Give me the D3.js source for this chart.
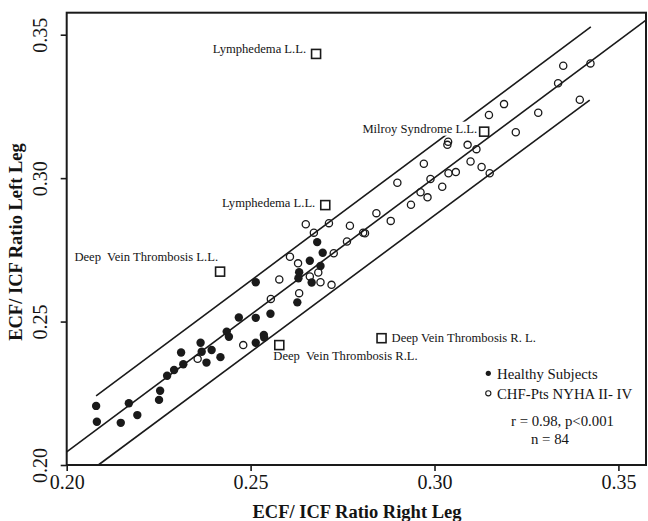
<!DOCTYPE html>
<html><head><meta charset="utf-8">
<script src="https://cdn.jsdelivr.net/npm/d3@7"></script>
<style>
html,body{margin:0;padding:0;background:#fff;}
svg text{font-family:"Liberation Serif","Times New Roman",serif;fill:#141414;white-space:pre;}
</style></head>
<body><svg id="c" width="648" height="521"></svg>
<script>
// ---- data ----
const xTicks = [0.20, 0.25, 0.30, 0.35];
const yTicks = [0.20, 0.25, 0.30, 0.35];
const xTickLabels = ["0.20", "0.25", "0.30", "0.35"];
const yTickLabels = ["0.20", "0.25", "0.30", "0.35"];
const xTitle = "ECF/ ICF Ratio Right Leg";
const yTitle = "ECF/ ICF Ratio Left Leg";

const healthyX = [0.2080,0.2082,0.2147,0.2169,0.2192,0.2251,0.2254,0.2273,0.2292,0.2311,0.2317,0.2364,0.2367,0.2380,0.2394,0.2418,0.2435,0.2441,0.2514,0.2536,0.2537,0.2468,0.2514,0.2554,0.2627,0.2514,0.2630,0.2632,0.2666,0.2661,0.2690,0.2696,0.2681];
const healthyY = [0.2206,0.2151,0.2147,0.2215,0.2174,0.2227,0.2259,0.2311,0.2331,0.2392,0.2351,0.2426,0.2395,0.2357,0.2401,0.2376,0.2465,0.2447,0.2426,0.2453,0.2444,0.2514,0.2513,0.2527,0.2567,0.2637,0.2651,0.2672,0.2636,0.2712,0.2694,0.2740,0.2777];

const chfX = [0.2356,0.2480,0.2555,0.2578,0.2607,0.2629,0.2632,0.2661,0.2684,0.2690,0.2720,0.2672,0.2726,0.2762,0.2806,0.2650,0.2713,0.2770,0.2811,0.2842,0.2881,0.2936,0.2962,0.2981,0.2899,0.2989,0.3021,0.2971,0.3038,0.3058,0.3037,0.3035,0.3090,0.3114,0.3098,0.3128,0.3150,0.3148,0.3189,0.3221,0.3282,0.3336,0.3350,0.3424,0.3395];
const chfY = [0.2370,0.2418,0.2579,0.2647,0.2726,0.2703,0.2599,0.2657,0.2671,0.2637,0.2628,0.2810,0.2738,0.2779,0.2810,0.2839,0.2843,0.2834,0.2808,0.2878,0.2851,0.2907,0.2951,0.2933,0.2984,0.2997,0.2970,0.3050,0.3017,0.3021,0.3127,0.3116,0.3116,0.3101,0.3058,0.3039,0.3017,0.3220,0.3258,0.3160,0.3228,0.3331,0.3392,0.3400,0.3273];

const caseNames = ["Lymphedema L.L.","Milroy Syndrome L.L.","Lymphedema L.L.","Deep  Vein Thrombosis L.L.","Deep  Vein Thrombosis R.L.","Deep Vein Thrombosis R. L."];
const caseX = [0.2678,0.3135,0.2703,0.2417,0.2578,0.2856];
const caseY = [0.3433,0.3162,0.2906,0.2674,0.2418,0.2442];

const fitLine = [[0.2000,0.2046],[0.3575,0.3551]];
const upperLine = [[0.2080,0.2241],[0.3425,0.3527]];
const lowerLine = [[0.2086,0.2000],[0.3422,0.3272]];

const legendLabels = ["Healthy Subjects","CHF-Pts NYHA II- IV"];
const statText = ["r = 0.98, p<0.001","n = 84"];

// ---- drawing ----
const svg = d3.select("#c");
const x = d3.scaleLinear().domain([0.2, 0.3575]).range([66.7, 646]);
const y = d3.scaleLinear().domain([0.2, 0.35767]).range([465, 12.7]);
const ink = "#1a1a1a";

// regression + bounds
const line = d3.line().x(d=>x(d[0])).y(d=>y(d[1]));
[fitLine, upperLine, lowerLine].forEach(l=>{
  svg.append("path").attr("d", line(l)).attr("fill","none").attr("stroke",ink).attr("stroke-width",1.6);
});

// healthy points
svg.append("g").selectAll("circle").data(healthyX.map((v,i)=>[v,healthyY[i]])).join("circle")
  .attr("cx",d=>x(d[0])).attr("cy",d=>y(d[1])).attr("r",4.2).attr("fill",ink);

// chf points
svg.append("g").selectAll("circle").data(chfX.map((v,i)=>[v,chfY[i]])).join("circle")
  .attr("cx",d=>x(d[0])).attr("cy",d=>y(d[1])).attr("r",3.6).attr("fill","none").attr("stroke",ink).attr("stroke-width",1.3);

// case squares and labels
const labelOff = [[-10,-1,"end"],[-7,1,"end"],[-10,2,"end"],[-2,-11,"end"],[-6,15,"start"],[10,4,"start"]];
const caseG = svg.append("g");
caseNames.forEach((name,i)=>{
  const cx = x(caseX[i]), cy = y(caseY[i]);
  const t = caseG.append("text").attr("x",cx+labelOff[i][0]).attr("y",cy+labelOff[i][1])
    .attr("text-anchor",labelOff[i][2]).attr("font-size",12.6).text(name);
  if (i===1) {
    const b = t.node().getBBox();
    caseG.insert("rect", "text").attr("x",b.x-1).attr("y",b.y).attr("width",b.width+2).attr("height",b.height).attr("fill","#fff");
  }
  caseG.append("rect").attr("x",cx-4.5).attr("y",cy-4.5).attr("width",9).attr("height",9)
    .attr("fill","#fff").attr("stroke",ink).attr("stroke-width",1.6);
});

// frame
svg.append("rect").attr("x",66.7).attr("y",12.7).attr("width",646-66.7).attr("height",465-12.7)
  .attr("fill","none").attr("stroke",ink).attr("stroke-width",2);

// axes ticks
const xa = svg.append("g").attr("transform","translate(0,465)")
  .call(d3.axisBottom(x).tickValues(xTicks).tickFormat((d,i)=>xTickLabels[i]).tickSize(6).tickPadding(4));
xa.select(".domain").remove();
xa.selectAll("line").attr("stroke",ink).attr("stroke-width",1.6);
xa.selectAll("text").attr("font-size",20).attr("font-family","Liberation Serif").attr("fill",ink);

const ya = svg.append("g").attr("transform","translate(66.7,0)")
  .call(d3.axisLeft(y).tickValues(yTicks).tickFormat((d,i)=>yTickLabels[i]).tickSize(6).tickPadding(4));
ya.select(".domain").remove();
ya.selectAll("line").attr("stroke",ink).attr("stroke-width",1.6);
ya.selectAll("text").attr("font-size",20).attr("font-family","Liberation Serif").attr("fill",ink)
  .attr("text-anchor","middle").attr("x",null).attr("dy",null)
  .attr("transform","translate(-20,0) rotate(-90)");

// titles
svg.append("text").attr("x",357).attr("y",518).attr("text-anchor","middle")
  .attr("font-size",18.5).attr("font-weight","bold").text(xTitle);
svg.append("text").attr("transform","translate(22,242) rotate(-90)").attr("text-anchor","middle")
  .attr("font-size",18.5).attr("font-weight","bold").text(yTitle);

// legend
const lg = svg.append("g");
lg.append("circle").attr("cx",488.3).attr("cy",373.3).attr("r",2.6).attr("fill",ink);
lg.append("circle").attr("cx",488.3).attr("cy",393.3).attr("r",2.6).attr("fill","none").attr("stroke",ink).attr("stroke-width",1.1);
legendLabels.forEach((s,i)=>{
  lg.append("text").attr("x",497).attr("y",378.5+i*20).attr("font-size",14.8).text(s);
});
lg.append("text").attr("x",511).attr("y",425.5).attr("font-size",14.8).text(statText[0]);
lg.append("text").attr("x",531).attr("y",443.5).attr("font-size",14.8).text(statText[1]);
</script></body></html>
